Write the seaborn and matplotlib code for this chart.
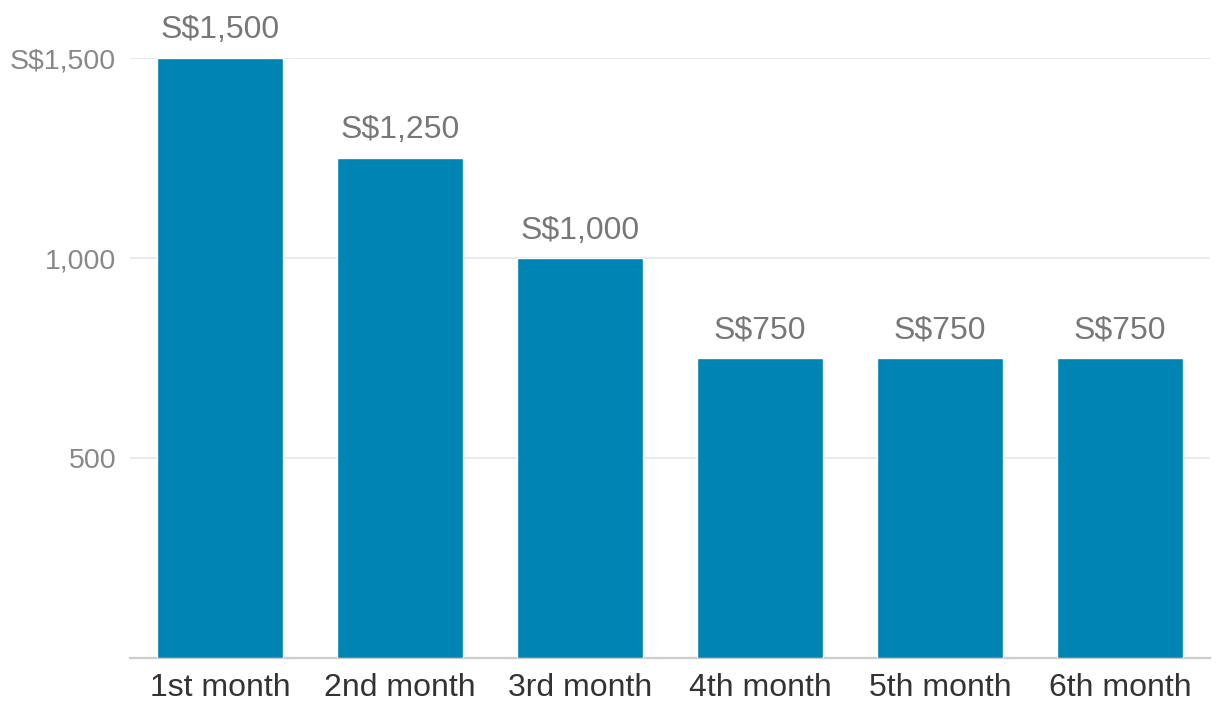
import matplotlib
matplotlib.use('Agg')
import matplotlib.pyplot as plt
import seaborn as sns
import pandas as pd

# Chart values
months = ['1st month', '2nd month', '3rd month', '4th month', '5th month', '6th month']
payouts = [1500, 1250, 1000, 750, 750, 750]
ytick_values = [500, 1000, 1500]
ytick_labels = ['500', '1,000', 'S$1,500']

sns.set_style('white')
plt.rcParams['font.family'] = ['Liberation Sans', 'DejaVu Sans']

df = pd.DataFrame({'month': months, 'payout': payouts})

fig = plt.figure(figsize=(12.2, 7.24), dpi=100)
ax = fig.add_axes([130 / 1220, 66 / 724, 1080 / 1220, 600 / 724])

sns.barplot(data=df, x='month', y='payout', color='#0084b4', saturation=1,
            width=0.695, ax=ax, zorder=3)

ax.set_xlim(-0.5, len(months) - 0.5)
ax.set_ylim(0, 1500)
ax.set_yticks(ytick_values)
ax.set_yticklabels(ytick_labels)
ax.grid(axis='y', color='#e6e6e6', linewidth=1.2, zorder=0)
ax.grid(axis='x', visible=False)

for side in ['top', 'right', 'left']:
    ax.spines[side].set_visible(False)
ax.spines['bottom'].set_color('#cccccc')
ax.spines['bottom'].set_linewidth(1.6)

ax.tick_params(axis='x', length=0, pad=11, labelsize=23, labelcolor='#333333')
ax.tick_params(axis='y', length=0, pad=10, labelsize=20.5, labelcolor='#888888')
ax.set_xlabel('')
ax.set_ylabel('')

# Value labels above bars
for i, v in enumerate(payouts):
    ax.annotate(f'S${v:,}', xy=(i, v), xytext=(0, 9), textcoords='offset points',
                ha='center', va='bottom', fontsize=23, color='#777777',
                annotation_clip=False)

plt.savefig('out.png', dpi=100)
